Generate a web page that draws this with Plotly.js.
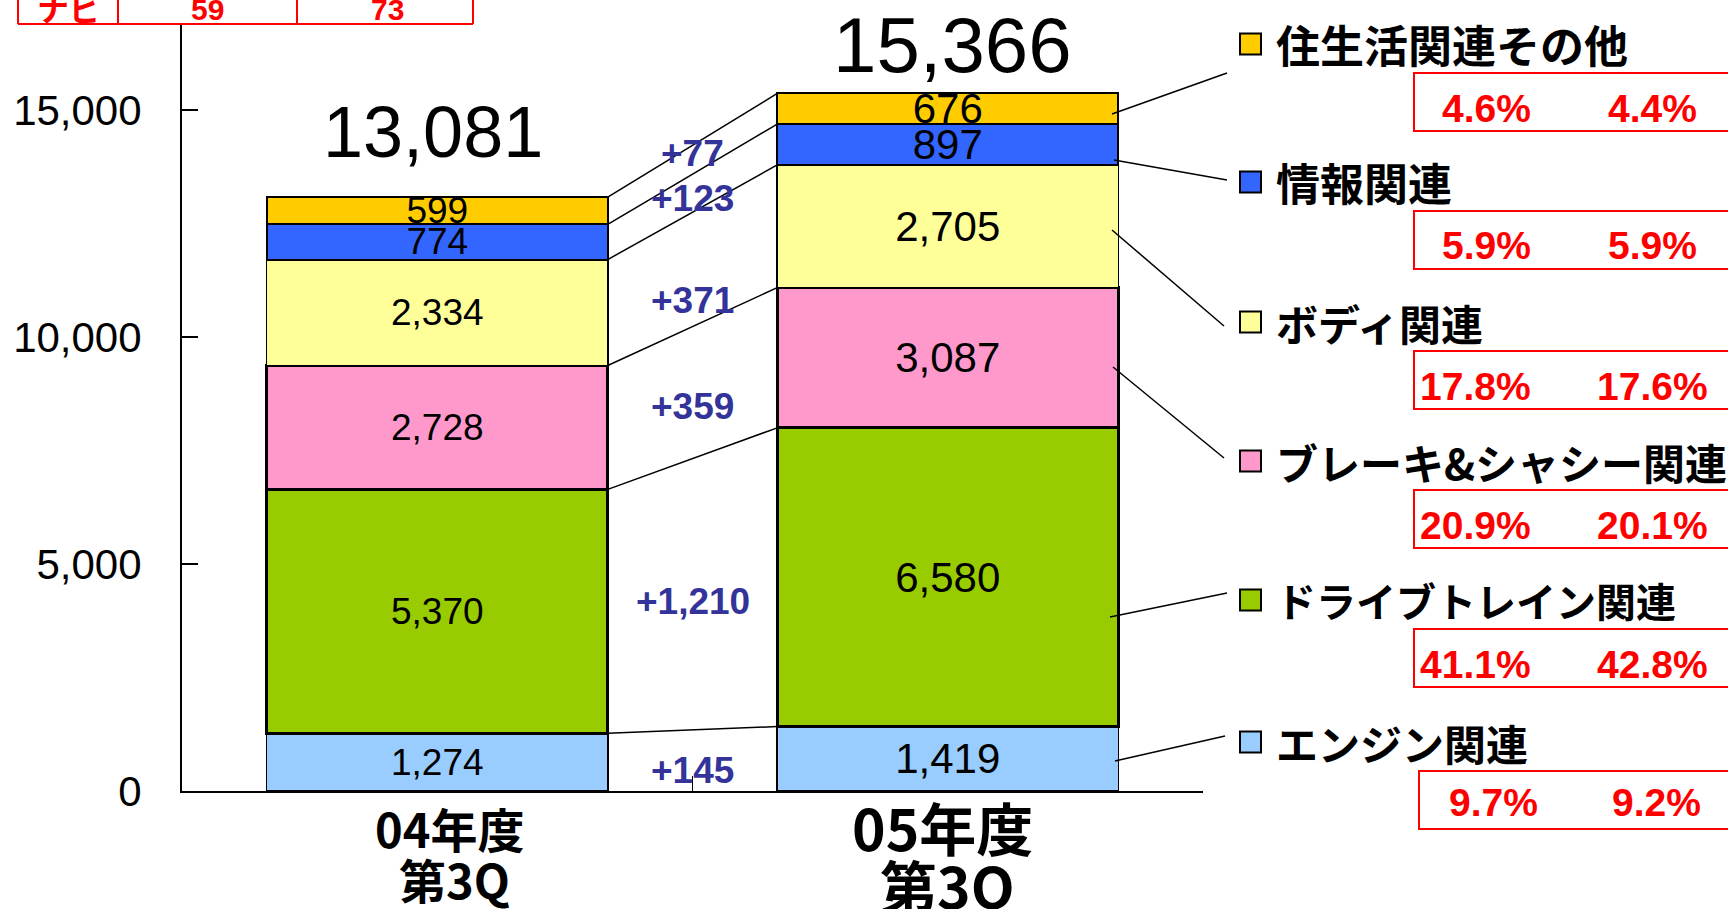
<!DOCTYPE html>
<html><head><meta charset="utf-8">
<script src="https://cdn.plot.ly/plotly-3.0.1.min.js"></script>
<style>html,body{margin:0;padding:0;background:#fff;overflow:hidden}#chart{width:1728px;height:909px}</style>
</head><body><div id="chart"></div><script>
// ---- data ----
const categories = ['04年度第3Q', '05年度第3Q'];
const catLine1 = ['04年度', '05年度'];
const catLine2 = ['第3Q', '第3Q'];
const seriesNames = ['エンジン関連', 'ドライブトレイン関連', 'ブレーキ&シャシー関連', 'ボディ関連', '情報関連', '住生活関連その他'];
const engine = [1274, 1419];
const drivetrain = [5370, 6580];
const brakeChassis = [2728, 3087];
const body = [2334, 2705];
const info = [774, 897];
const lifeOther = [599, 676];
const totals = [13081, 15366];
const shareFY04 = ['9.7%', '41.1%', '20.9%', '17.8%', '5.9%', '4.6%'];
const shareFY05 = ['9.2%', '42.8%', '20.1%', '17.6%', '5.9%', '4.4%'];
const naviRow = ['ナビ', '59', '73'];
const yTicks = [0, 5000, 10000, 15000];

// ---- styles ----
const series = [engine, drivetrain, brakeChassis, body, info, lifeOther];
const colors = ['#99CCFF', '#99CC00', '#FF99CC', '#FFFF99', '#3366FF', '#FFCC00'];
const borderW = [1.5, 3, 3, 1.5, 2, 2];
const legendSize = [42, 40, 42, 42, 44, 44];
const LAT = 'Liberation Sans, Arial, sans-serif';
const CJK = 'Noto Sans CJK JP, sans-serif';
const BW = 0.668;
const fmt = v => v.toLocaleString('en-US');

// pixel -> paper helpers for decorations (plot area 182..1203 x, 24..791 y)
const L = 182, R = 1203, T = 24, B = 791;
const xp = px => (px - L) / (R - L);
const yp = py => (B - py) / (B - T);

const traces = series.map((vals, i) => ({
  type: 'bar', name: seriesNames[i], x: categories, y: vals, width: BW,
  marker: { color: colors[i], line: { color: '#000', width: borderW[i] } },
  text: vals.map(fmt), textposition: 'inside', insidetextanchor: 'middle',
  textangle: 0, constraintext: 'none',
  textfont: { family: LAT, size: [37, 42], color: '#000' },
  hoverinfo: 'skip'
}));

const shapes = [];
const annotations = [];

// cumulative stacks
const cum = [[], []];
for (let c = 0; c < 2; c++) { let s = 0; series.forEach(v => { s += v[c]; cum[c].push(s); }); }

// connector lines between bars
for (let i = 0; i < series.length; i++) {
  shapes.push({ type: 'line', xref: 'x', yref: 'y', x0: BW / 2, x1: 1 - BW / 2,
    y0: cum[0][i], y1: cum[1][i], line: { color: '#000', width: 1.5 } });
}

// delta labels
const deltaShift = [-10, -7, -14, -31, -5, 6];
for (let i = 0; i < series.length; i++) {
  const c0 = cum[0][i] - series[i][0] / 2, c1 = cum[1][i] - series[i][1] / 2;
  const d = series[i][1] - series[i][0];
  annotations.push({ xref: 'x', yref: 'y', x: 0.5, y: (c0 + c1) / 2, yshift: deltaShift[i],
    text: (d >= 0 ? '+' : '') + fmt(d), showarrow: false, xanchor: 'center', yanchor: 'middle',
    font: { family: LAT, size: 37, color: '#333399', weight: 'bold' } });
}

// totals
const totShift = [65, 48];
const totSize = [72, 78];
totals.forEach((t, c) => annotations.push({ xref: 'x', yref: 'y', x: c, y: t, yshift: totShift[c],
  xshift: c === 0 ? -4 : 5,
  text: fmt(t), showarrow: false, yanchor: 'middle', font: { family: LAT, size: totSize[c], color: '#000' } }));

// category labels
const catSize = [47, 57];
const l1y = [828, 826], l2y = [878, 884], l1x = [12, -5], l2x = [17, 0];
categories.forEach((c, k) => {
  annotations.push({ xref: 'x', yref: 'paper', x: k, y: yp(l1y[k]), xshift: l1x[k], text: catLine1[k],
    showarrow: false, yanchor: 'middle', font: { family: CJK, size: catSize[k], color: '#000', weight: 'bold' } });
  annotations.push({ xref: 'x', yref: 'paper', x: k, y: yp(l2y[k]), xshift: l2x[k], text: catLine2[k],
    showarrow: false, yanchor: 'middle', font: { family: CJK, size: catSize[k], color: '#000', weight: 'bold' } });
});

// legend (top to bottom = last series first)
const rowY = [742, 600, 461, 322, 182, 44];
const leadStart = [[1115, 761], [1110, 617], [1113, 367], [1112, 230], [1114, 160], [1112, 114]];
const leadEnd = [[1225, 736], [1227, 593], [1224, 458], [1224, 326], [1227, 180], [1227, 73]];
for (let i = 0; i < series.length; i++) {
  const y = rowY[i];
  shapes.push({ type: 'rect', xref: 'paper', yref: 'paper', x0: xp(1240), x1: xp(1261), y0: yp(y - 10.5), y1: yp(y + 10.5),
    fillcolor: colors[i], line: { color: '#000', width: 2 } });
  annotations.push({ xref: 'paper', yref: 'paper', x: xp(1274), y: yp(y), text: seriesNames[i], showarrow: false,
    xanchor: 'left', yanchor: 'middle', font: { family: CJK, size: legendSize[i], color: '#000', weight: 'bold' } });
  shapes.push({ type: 'line', xref: 'paper', yref: 'paper', x0: xp(leadStart[i][0]), y0: yp(leadStart[i][1]),
    x1: xp(leadEnd[i][0]), y1: yp(leadEnd[i][1]), line: { color: '#000', width: 1.5 } });
  const bx0 = i === 0 ? 1419 : 1414;
  shapes.push({ type: 'rect', xref: 'paper', yref: 'paper', x0: xp(bx0), x1: xp(1745), y0: yp(y + 29), y1: yp(y + 87),
    line: { color: '#FF0000', width: 2 } });
  const ty = y + (i === 0 ? 60 : 64);
  annotations.push({ xref: 'paper', yref: 'paper', x: xp(i === 0 ? 1540 : 1533), y: yp(ty), text: shareFY04[i], showarrow: false,
    xanchor: 'right', yanchor: 'middle', font: { family: LAT, size: 39, color: '#FF0000', weight: 'bold' } });
  annotations.push({ xref: 'paper', yref: 'paper', x: xp(i === 0 ? 1656 : 1652), y: yp(ty), text: shareFY05[i], showarrow: false,
    xanchor: 'center', yanchor: 'middle', font: { family: LAT, size: 39, color: '#FF0000', weight: 'bold' } });
}

// partial red table at the very top
[18, 118, 297, 473].forEach(px => shapes.push({ type: 'line', xref: 'paper', yref: 'paper',
  x0: xp(px), x1: xp(px), y0: yp(24), y1: yp(-5), line: { color: '#FF0000', width: 2 } }));
shapes.push({ type: 'line', xref: 'paper', yref: 'paper', x0: xp(18), x1: xp(473), y0: yp(24), y1: yp(24),
  line: { color: '#FF0000', width: 2 } });
const naviX = [69, 207, 387];
naviRow.forEach((t, k) => annotations.push({ xref: 'paper', yref: 'paper', x: xp(naviX[k]), y: yp(k === 0 ? 7 : 9),
  text: t, showarrow: false, xanchor: 'center', yanchor: 'middle',
  font: k === 0 ? { family: CJK, size: 32, color: '#FF0000', weight: 'bold' } : { family: LAT, size: 30, color: '#FF0000', weight: 'bold' } }));

const layout = {
  width: 1728, height: 909, paper_bgcolor: '#fff', plot_bgcolor: '#fff',
  margin: { l: L, r: 1728 - R, t: T, b: 909 - B, pad: 0 },
  barmode: 'stack', showlegend: false,
  xaxis: { type: 'category', range: [-0.5, 1.5], showline: true, linecolor: '#000', linewidth: 2,
    ticks: 'inside', tickson: 'boundaries', ticklen: 15, tickwidth: 1.5, tickcolor: '#000',
    showticklabels: false, showgrid: false, zeroline: false, fixedrange: true },
  yaxis: { range: [0, 16894], tickvals: yTicks, tickformat: ',', ticks: 'inside', ticklen: 16, tickwidth: 2,
    tickcolor: '#000', showline: true, linecolor: '#000', linewidth: 2, showgrid: false, zeroline: false,
    ticklabelstandoff: 30, tickfont: { family: LAT, size: 42, color: '#000' }, fixedrange: true },
  shapes: shapes, annotations: annotations
};
Plotly.newPlot('chart', traces, layout, { staticPlot: true, displayModeBar: false });
</script></body></html>
